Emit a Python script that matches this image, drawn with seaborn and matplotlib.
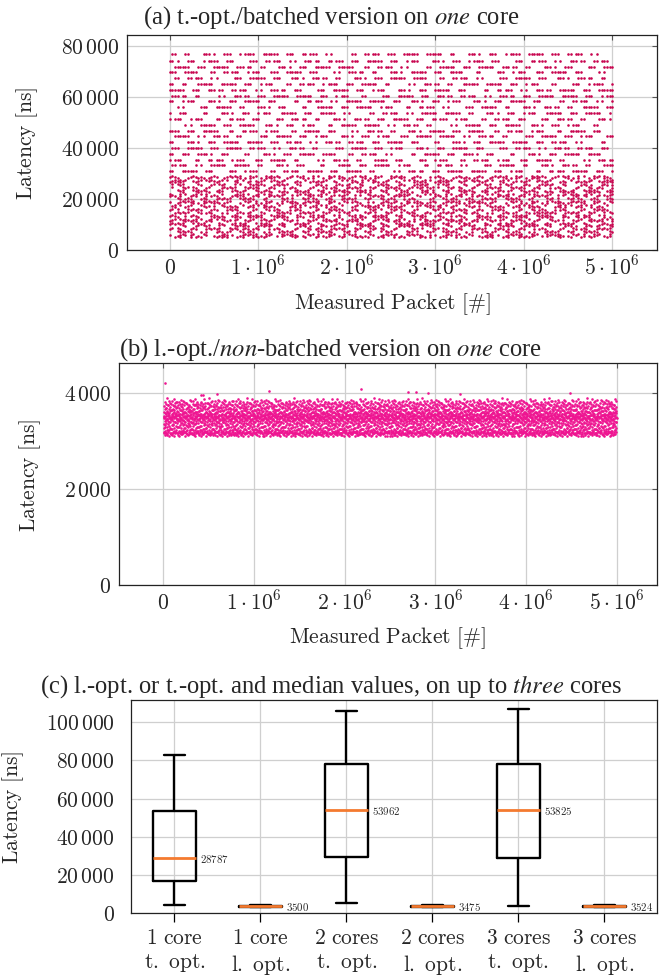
import numpy as np
import pandas as pd
import matplotlib
matplotlib.use("Agg")
import matplotlib.pyplot as plt
import seaborn as sns

# (a) t.-opt./batched, one core: latency levels (ns) the packets line up on
levels_a_upper = [76700, 74100, 71800, 69500, 67200, 65000, 62700, 60400, 58200,
                  55800, 53600, 51200, 49000, 46700, 44400, 42100, 39900, 37600,
                  35300, 33200, 31000]
levels_a_lower = [28600, 27500, 26400, 25300, 24100, 23000, 22000, 20900, 19800,
                  18700, 17700, 16600, 15500, 14400, 13300, 12200, 11200, 10100,
                  9100, 8000, 7000, 5900, 4900]
fill_a_upper = 0.58
fill_a_lower = 0.62
packets_max = 5_000_000

# (b) l.-opt./non-batched, one core: density of the latency band (50 ns bins)
bins_b = [3100, 3150, 3200, 3250, 3300, 3350, 3400, 3450, 3500, 3550, 3600,
          3650, 3700, 3750, 3800, 3850]
density_b = [0.40, 1.00, 0.55, 0.40, 0.40, 0.45, 0.55, 0.80, 0.85, 0.65, 0.50,
             0.45, 0.42, 0.42, 0.32, 0.12]
outlier_b_packet = [0.015e6, 0.41e6, 0.44e6, 0.59e6, 1.16e6, 2.18e6, 2.70e6,
                    2.79e6, 2.92e6, 3.27e6, 4.48e6]
outlier_b_latency = [4210, 3970, 3965, 3990, 4040, 4080, 4020, 4030, 4010, 3980, 4010]

# (c) box statistics
cases = ["1 core\nt. opt.", "1 core\nl. opt.", "2 cores\nt. opt.",
         "2 cores\nl. opt.", "3 cores\nt. opt.", "3 cores\nl. opt."]
box_low = [4200, 3100, 5100, 3100, 3900, 3100]
box_q1 = [16800, 3250, 29200, 3250, 28900, 3250]
box_median = [28787, 3500, 53962, 3475, 53825, 3524]
box_q3 = [53400, 3800, 78200, 3800, 78300, 3800]
box_high = [82900, 4400, 105700, 4400, 106800, 4400]

COL_A = "#c8044e"
COL_B = "#ee1591"
ORANGE = "#f47a2f"
FS = 15.5

sns.set_style("whitegrid")
plt.rcParams["mathtext.fontset"] = "cm"
plt.rcParams["font.family"] = ["Liberation Serif", "DejaVu Serif"]

phi = (np.sqrt(5) - 1) / 2


def halton(n, base, start=0):
    out = np.zeros(n)
    for k in range(n):
        f, v, q = 1.0, 0.0, start + k + 1
        while q > 0:
            f /= base
            v += f * (q % base)
            q //= base
        out[k] = v
    return out


# layout of the dots in (a): dashed rows on the read levels
n_x = 171
xs = np.linspace(0, packets_max, n_x)
ax_pts, ay_pts = [], []
for group, (levels, fill, zig) in enumerate([(levels_a_upper, fill_a_upper, 0),
                                              (levels_a_lower, fill_a_lower, 450)]):
    for r, lev in enumerate(levels):
        i = np.arange(n_x)
        rr = r + 40 * group
        block = (i + (rr * 2) % 3) // 3
        keep = np.mod(block * phi + rr * 0.4142, 1) < fill
        keep &= np.mod(i * 0.7549 + rr * 0.5698, 1) > 0.15
        y = lev + zig * (i % 2)
        ax_pts.append(xs[keep])
        ay_pts.append(y[keep])
df_a = pd.DataFrame({"packet": np.concatenate(ax_pts), "latency": np.concatenate(ay_pts)})

# (b) band from the read density
n_b = 4000
counts = np.round(np.array(density_b) / sum(density_b) * n_b).astype(int)
bx, by = [], []
start = 0
for lo, n in zip(bins_b, counts):
    bx.append(halton(n, 2, start) * packets_max)
    by.append(lo + halton(n, 3, start) * 50)
    start += n
df_b = pd.DataFrame({"packet": np.concatenate(bx + [np.array(outlier_b_packet)]),
                     "latency": np.concatenate(by + [np.array(outlier_b_latency)])})

# (c) long form: five values per case give the exact box statistics
rows = []
for c, lo, q1, me, q3, hi in zip(cases, box_low, box_q1, box_median, box_q3, box_high):
    for v in (lo, q1, me, q3, hi):
        rows.append((c, v))
df_c = pd.DataFrame(rows, columns=["case", "latency"])


def fmt_thousands(v):
    v = int(round(v))
    if v < 1000:
        return r"$%d$" % v
    return r"$%s$" % f"{v:,}".replace(",", r"\,")


def fmt_packets(v):
    if v == 0:
        return r"$0$"
    return r"$%d\cdot10^{6}$" % round(v / 1e6)


def mrm(s):
    return "\n".join(r"$\mathrm{%s}$" % line.replace(" ", r"\ ") for line in s.split("\n"))


W, H = 659, 978
fig = plt.figure(figsize=(W / 100, H / 100), dpi=100)


def add_axes(left, right, top, bottom):
    return fig.add_axes([left / W, 1 - bottom / H, (right - left) / W, (bottom - top) / H])


def style(ax):
    ax.grid(True, color="#cfcfcf", linewidth=0.9)
    ax.set_axisbelow(True)
    for s in ax.spines.values():
        s.set_visible(True)
        s.set_color("#222222")
        s.set_linewidth(0.9)


def title(text, baseline_px):
    fig.text(331 / W, 1 - baseline_px / H, text, ha="center", va="baseline",
             fontsize=17.7, family="Liberation Serif", math_fontfamily="stix")


xticks = [0, 1e6, 2e6, 3e6, 4e6, 5e6]

# (a)
ax = add_axes(127, 656.7, 36, 250.7)
sns.scatterplot(data=df_a, x="packet", y="latency", s=3.5, color=COL_A,
                linewidth=0, ax=ax, rasterized=True)
style(ax)
ax.set_xlim(-0.484e6, 5.503e6)
ax.set_ylim(0, 84200)
yt = [0, 20000, 40000, 60000, 80000]
ax.set_yticks(yt, [fmt_thousands(v) for v in yt])
ax.set_xticks(xticks, [fmt_packets(v) for v in xticks])
ax.tick_params(direction="in", length=3.5, width=0.8, color="#555555",
               top=True, right=True, labelsize=FS)
ax.tick_params(axis="x", pad=17)
ax.tick_params(axis="y", pad=5.8)
plt.setp(ax.get_xticklabels(), va="baseline")
ax.set_xlabel(r"$\mathrm{Measured\ Packet\ [\#]}$", fontsize=FS)
ax.set_ylabel(r"$\mathrm{Latency\ [ns]}$", fontsize=FS)
ax.xaxis.set_label_coords(0.5, -0.19)
ax.yaxis.set_label_coords(-0.165, 0.5)
title(r"(a) t.-opt./batched version on $\mathit{one}$ core", 24)

# (b)
ax = add_axes(118.7, 656.7, 364.3, 585.7)
sns.scatterplot(data=df_b, x="packet", y="latency", s=3.5, color=COL_B,
                linewidth=0, ax=ax, rasterized=True)
style(ax)
ax.set_xlim(-0.494e6, 5.44e6)
ax.set_ylim(0, 4627)
yt = [0, 2000, 4000]
ax.set_yticks(yt, [fmt_thousands(v) for v in yt])
ax.set_xticks(xticks, [fmt_packets(v) for v in xticks])
ax.tick_params(direction="in", length=3.5, width=0.8, color="#555555",
               top=True, right=True, labelsize=FS)
ax.tick_params(axis="x", pad=17)
ax.tick_params(axis="y", pad=5.5)
plt.setp(ax.get_xticklabels(), va="baseline")
ax.set_xlabel(r"$\mathrm{Measured\ Packet\ [\#]}$", fontsize=FS)
ax.set_ylabel(r"$\mathrm{Latency\ [ns]}$", fontsize=FS)
ax.xaxis.set_label_coords(0.5, -0.18)
ax.yaxis.set_label_coords(-0.14, 0.5)
title(r"(b) l.-opt./$\mathit{non}$-batched version on $\mathit{one}$ core", 356)

# (c)
ax = add_axes(131.2, 656.7, 701, 914)
sns.boxplot(data=df_c, x="case", y="latency", order=cases, whis=np.inf,
            width=0.5, fill=False, color="black", linewidth=1.7,
            medianprops={"color": ORANGE, "linewidth": 2.0}, ax=ax)
style(ax)
ax.set_xlim(-0.502, 5.61)
ax.set_ylim(0, 111700)
yt = [0, 20000, 40000, 60000, 80000, 100000]
ax.set_yticks(yt, [fmt_thousands(v) for v in yt])
ax.set_xticks(range(len(cases)), [mrm(c) for c in cases])
ax.tick_params(axis="x", direction="out", length=6.5, width=0.9, color="black",
               pad=5, labelsize=FS, bottom=True)
ax.tick_params(axis="y", length=0, pad=12, labelsize=FS)
for i, me in enumerate(box_median):
    ax.text(i + 0.30, me, r"$%d$" % me, fontsize=7.8, ha="left", va="center")
ax.set_xlabel("")
ax.set_ylabel(r"$\mathrm{Latency\ [ns]}$", fontsize=FS)
ax.yaxis.set_label_coords(-0.2, 0.5)
title(r"(c) l.-opt. or t.-opt. and median values, on up to $\mathit{three}$ cores", 693)

fig.savefig("out.png", dpi=100)
